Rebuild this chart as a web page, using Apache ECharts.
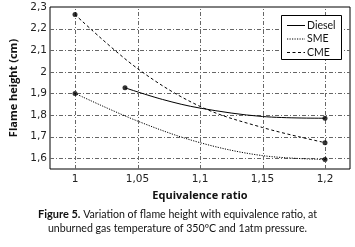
<!DOCTYPE html>
<html><head><meta charset="utf-8">
<script src="https://cdn.jsdelivr.net/npm/echarts@6/dist/echarts.min.js"></script>
<style>html,body{margin:0;padding:0;background:#fff}#c{width:355px;height:247px}</style>
</head><body><div id="c"></div>
<script>
const dieselX = [1.04, 1.07, 1.10, 1.15, 1.20];
const dieselY = [1.926, 1.872, 1.832, 1.793, 1.785];
const smeX = [1.00, 1.05, 1.10, 1.15, 1.20];
const smeY = [1.900, 1.772, 1.672, 1.612, 1.594];
const cmeX = [1.00, 1.05, 1.10, 1.15, 1.20];
const cmeY = [2.265, 2.015, 1.840, 1.742, 1.672];
const xTicks = [1.00, 1.05, 1.10, 1.15, 1.20];
const yTicks = [1.6, 1.7, 1.8, 1.9, 2.0, 2.1, 2.2, 2.3];
const seriesNames = ['Diesel', 'SME', 'CME'];
const captionBold = 'Figure 5.';
const captionLine1 = 'Variation of flame height with equivalence ratio, at';
const captionLine2 = 'unburned gas temperature of 350ºC and 1atm pressure.';

const X_MIN = 0.98, X_MAX = 1.22, Y_MIN = 1.55, Y_MAX = 2.3;
const F = 'Lato';
const FT = 'DejaVu Sans';
const fmt = v => String(Math.round(v*100)/100).replace('.', ',');
const isTick = (v, arr) => arr.some(t => Math.abs(t - v) < 1e-6);
const pairs = (xs, ys) => xs.map((x, i) => [x, ys[i]]);
const ends = (xs, ys) => [[xs[0], ys[0]], [xs[xs.length-1], ys[ys.length-1]]];
const dashes = ['solid', [1.2, 1.3], [3, 2.5]];

const chart = echarts.init(document.getElementById('c'), null, {renderer: 'canvas'});

const legendGraphics = [
  {type: 'rect', shape: {x: 281.5, y: 15.5, width: 60, height: 44}, style: {fill: '#fff', stroke: '#000', lineWidth: 1}, z: 10}
];
seriesNames.forEach((n, i) => {
  const y = 25.5 + i * 13.5;
  legendGraphics.push({type: 'line', shape: {x1: 287, y1: y, x2: 305, y2: y},
    style: {stroke: '#000', lineWidth: 1, lineDash: dashes[i] === 'solid' ? null : dashes[i]}, z: 11});
  legendGraphics.push({type: 'text', x: 307, y: y, style: {text: n, font: '10.5px ' + F, fill: '#111', textVerticalAlign: 'middle'}, z: 11});
});

chart.setOption({
  animation: false,
  textStyle: {fontFamily: F},
  grid: {left: 48, right: 5, top: 7, bottom: 78, show: true, borderColor: '#000', borderWidth: 1, backgroundColor: 'transparent'},
  xAxis: [{
    type: 'value', min: X_MIN, max: X_MAX, interval: 0.01,
    axisLine: {show: false}, axisTick: {show: false}, splitLine: {show: false},
    axisLabel: {color: '#222', fontSize: 10.5, fontFamily: FT, margin: 5,
      formatter: v => isTick(v, xTicks) ? fmt(v) : ''},
    name: 'Equivalence ratio', nameLocation: 'middle', nameGap: 21,
    nameTextStyle: {fontSize: 11, fontWeight: 'bold', color: '#111', fontFamily: 'Open Sans'}
  }],
  yAxis: [{
    type: 'value', min: Y_MIN, max: Y_MAX, interval: 0.05,
    axisLine: {show: false}, axisTick: {show: false}, splitLine: {show: false},
    axisLabel: {color: '#222', fontSize: 10.5, fontFamily: FT, margin: 3,
      formatter: v => isTick(v, yTicks) ? fmt(v) : ''},
    name: 'Flame height (cm)', nameLocation: 'middle', nameGap: 31,
    nameTextStyle: {fontSize: 11, fontWeight: 'bold', color: '#111', fontFamily: 'Open Sans'}
  }],
  series: [
    {type: 'line', name: seriesNames[0], data: pairs(dieselX, dieselY), smooth: 0.35, symbol: 'none',
     lineStyle: {color: '#000', width: 1, type: dashes[0]}, itemStyle: {color: '#000'}, z: 5},
    {type: 'line', name: seriesNames[1], data: pairs(smeX, smeY), smooth: 0.35, symbol: 'none',
     lineStyle: {color: '#000', width: 1, type: dashes[1]}, itemStyle: {color: '#000'}, z: 5},
    {type: 'line', name: seriesNames[2], data: pairs(cmeX, cmeY), smooth: 0.35, symbol: 'none',
     lineStyle: {color: '#000', width: 1, type: dashes[2]}, itemStyle: {color: '#000'}, z: 5},
    {type: 'scatter', name: 'pts', silent: true, symbolSize: 5, itemStyle: {color: '#000'}, z: 6,
     data: ends(dieselX, dieselY).concat(ends(smeX, smeY), ends(cmeX, cmeY))}
  ]
});

// gridlines placed through the axes' own scale
const gridLines = [];
yTicks.filter(t => t < Y_MAX - 0.01).forEach(t => {
  const a = chart.convertToPixel({gridIndex: 0}, [X_MIN, t]);
  const b = chart.convertToPixel({gridIndex: 0}, [X_MAX, t]);
  gridLines.push({type: 'line', z: 1, silent: true, shape: {x1: a[0], y1: Math.round(a[1]) + 0.5, x2: b[0], y2: Math.round(b[1]) + 0.5},
    style: {stroke: '#666', lineWidth: 1, lineDash: [4, 2, 1, 2]}});
});
xTicks.forEach(t => {
  const a = chart.convertToPixel({gridIndex: 0}, [t, Y_MIN]);
  const b = chart.convertToPixel({gridIndex: 0}, [t, Y_MAX]);
  gridLines.push({type: 'line', z: 1, silent: true, shape: {x1: Math.round(a[0]) + 0.5, y1: a[1], x2: Math.round(b[0]) + 0.5, y2: b[1]},
    style: {stroke: '#666', lineWidth: 1, lineDash: [4, 2, 1, 2]}});
});

chart.setOption({
  graphic: gridLines.concat(legendGraphics, [
    {type: 'text', left: 'center', top: 209, z: 11,
     style: {text: '{b|' + captionBold + '} ' + captionLine1, font: '10.6px ' + F, fill: '#111',
       rich: {b: {fontWeight: 'bold', fontSize: 11, fontFamily: F, fill: '#111'}}}},
    {type: 'text', left: 'center', top: 223, z: 11,
     style: {text: captionLine2, font: '10.6px ' + F, fill: '#111'}}
  ])
});
</script></body></html>
